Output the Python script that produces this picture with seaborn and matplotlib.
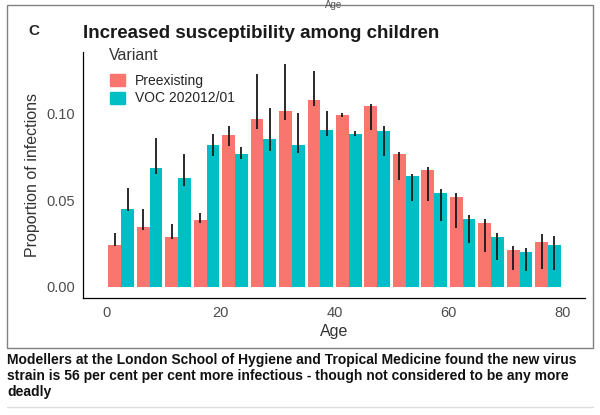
import matplotlib
matplotlib.use("Agg")
import matplotlib.pyplot as plt
import matplotlib.patches as mpatches
import matplotlib.lines as mlines
import seaborn as sns
import pandas as pd

# age bins (midpoints of 5-year bands)
age_mid = [2.5, 7.5, 12.5, 17.5, 22.5, 27.5, 32.5, 37.5,
           42.5, 47.5, 52.5, 57.5, 62.5, 67.5, 72.5, 77.5]
variants = ["Preexisting", "VOC 202012/01"]

pre_val = [0.024, 0.0345, 0.0287, 0.0383, 0.0877, 0.0971, 0.1012, 0.1077,
           0.0994, 0.1043, 0.0767, 0.0672, 0.0519, 0.0368, 0.0212, 0.0258]
pre_lo = [0.0235, 0.033, 0.0278, 0.0366, 0.081, 0.0913, 0.096, 0.1042,
          0.0978, 0.0907, 0.0618, 0.0493, 0.034, 0.0198, 0.0098, 0.0102]
pre_hi = [0.031, 0.0449, 0.036, 0.0428, 0.0927, 0.1228, 0.1288, 0.1244,
          0.1001, 0.1056, 0.0776, 0.0692, 0.0542, 0.0391, 0.0235, 0.0306]

voc_val = [0.0449, 0.0686, 0.0628, 0.0819, 0.0768, 0.0855, 0.0821, 0.0906,
           0.0879, 0.0898, 0.0637, 0.0542, 0.0391, 0.0285, 0.0199, 0.0243]
voc_lo = [0.044, 0.065, 0.058, 0.0754, 0.0735, 0.0783, 0.0774, 0.0869,
          0.0869, 0.0753, 0.0493, 0.0378, 0.0253, 0.0154, 0.0088, 0.0094]
voc_hi = [0.057, 0.086, 0.0764, 0.088, 0.0806, 0.1029, 0.1004, 0.1013,
          0.0898, 0.0927, 0.0653, 0.0565, 0.0416, 0.031, 0.0222, 0.029]

colors = ["#F8766D", "#00BFC4"]

df = pd.DataFrame({
    "Age": age_mid * 2,
    "prop": pre_val + voc_val,
    "Variant": [variants[0]] * len(age_mid) + [variants[1]] * len(age_mid),
})

sns.set_style("white")
plt.rcParams["font.family"] = ["Liberation Sans", "DejaVu Sans"]

fig = plt.figure(figsize=(6, 4.15), dpi=100)
ax = fig.add_axes([83 / 600, 1 - 298 / 415, 502 / 600, 246 / 415])

sns.barplot(data=df, x="Age", y="prop", hue="Variant", hue_order=variants,
            palette=colors, native_scale=True, width=0.9, saturation=1,
            errorbar=None, linewidth=0, edgecolor="none", ax=ax)

# error bars on top of each bar
for cont, lo, hi in zip(ax.containers, [pre_lo, voc_lo], [pre_hi, voc_hi]):
    xs = [p.get_x() + p.get_width() / 2 for p in cont.patches]
    ax.vlines(xs, lo, hi, color="#1a1a1a", lw=1.3, zorder=5)

ax.set_xlim(-4.2, 84)
ax.set_ylim(-0.0065, 0.1355)
ax.set_xticks([0, 20, 40, 60, 80])
ax.set_yticks([0, 0.05, 0.10])
ax.set_yticklabels(["0.00", "0.05", "0.10"])
ax.tick_params(axis="both", length=3.5, width=0.8, color="#333333",
               labelcolor="#4d4d4d", labelsize=10.5, pad=2)
for s in ["top", "right"]:
    ax.spines[s].set_visible(False)
for s in ["left", "bottom"]:
    ax.spines[s].set_color("black")
    ax.spines[s].set_linewidth(0.9)

ax.set_xlabel("Age", fontsize=11.5, color="#333333", labelpad=3)
ax.set_ylabel("Proportion of infections", fontsize=11.5, color="#333333")
ax.yaxis.set_label_coords(-0.086, 0.5)

handles = [mpatches.Patch(color=c) for c in colors]
ax.legend(handles, variants, loc="upper left",
          bbox_to_anchor=((110 - 83) / 502, (298 - 74) / 246), frameon=False,
          fontsize=10, handlelength=1.08, handleheight=0.95,
          handletextpad=0.7, labelspacing=0.25, borderpad=0,
          borderaxespad=0)
ax.text((109 - 83) / 502, (298 - 56) / 246, "Variant", transform=ax.transAxes,
        fontsize=11.5, color="#333333", va="center", ha="left")

fig.text(28 / 600, 1 - 31 / 415, "C", fontsize=11, weight="bold", va="center")
fig.text(83 / 600, 1 - 33 / 415, "Increased susceptibility among children",
         fontsize=13.5, weight="bold", color="#1a1a1a", va="center")
# label left over from the panel above
fig.text(334 / 600, 1.0, "Age", fontsize=7, color="#555555",
         ha="center", va="top")

fig.add_artist(mpatches.Rectangle((7 / 600, 1 - 348 / 415), 586 / 600,
                                  343 / 415, transform=fig.transFigure,
                                  fill=False, edgecolor="#808080", lw=1))
fig.text(7 / 600, 1 - 353 / 415,
         "Modellers at the London School of Hygiene and Tropical Medicine found the new virus\n"
         "strain is 56 per cent per cent more infectious - though not considered to be any more\n"
         "deadly",
         fontsize=10, weight="bold", color="#111111", va="top", linespacing=1.2)
fig.add_artist(mlines.Line2D([7 / 600, 593 / 600], [1 - 407 / 415] * 2,
                             transform=fig.transFigure, color="#dddddd", lw=1))

fig.savefig("out.png", dpi=100)
